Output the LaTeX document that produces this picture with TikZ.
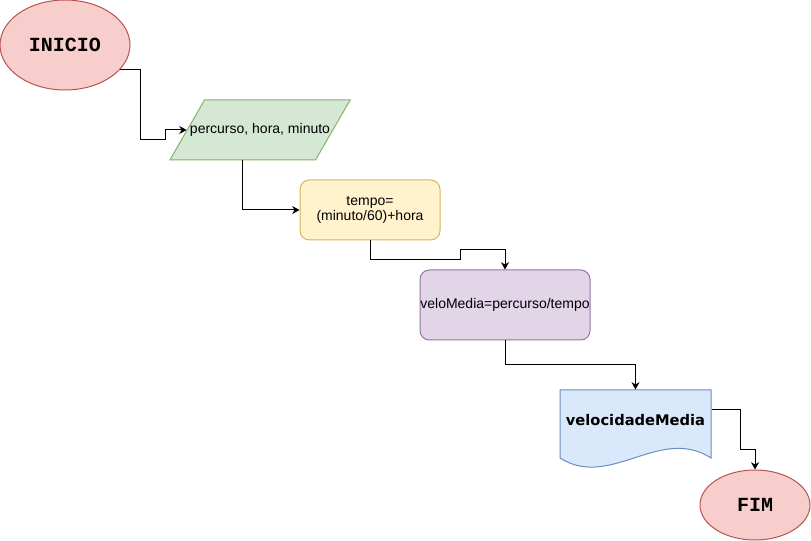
\documentclass[tikz,border=0pt]{standalone}
\usepackage{fontspec}
\setmainfont{Liberation Sans}
\newfontfamily\monofont{Liberation Mono}
\newfontfamily\docfont{DejaVu Sans}
\usetikzlibrary{shapes.geometric, arrows.meta, calc}
\definecolor{termfill}{HTML}{F8CECC}
\definecolor{termline}{HTML}{B85450}
\definecolor{iofill}{HTML}{D5E8D4}
\definecolor{ioline}{HTML}{82B366}
\definecolor{calcfill}{HTML}{FFF2CC}
\definecolor{calcline}{HTML}{D6B656}
\definecolor{procfill}{HTML}{E1D5E7}
\definecolor{procline}{HTML}{9673A6}
\definecolor{docfill}{HTML}{DAE8FC}
\definecolor{docline}{HTML}{6C8EBF}
\tikzstyle{terminal} = [draw=termline, fill=termfill, ellipse, inner sep=0pt,
    font=\monofont\bfseries\fontsize{15}{18}\selectfont]
\tikzstyle{io} = [draw=ioline, fill=iofill, trapezium, trapezium left angle=60,
    trapezium right angle=120, inner xsep=-10.9pt,
    text height=7.6pt, text depth=2.2pt, inner ysep=17.6pt]
\tikzstyle{block} = [draw, rectangle, rounded corners=7pt, align=center, inner sep=0pt]

\begin{document}
\begin{tikzpicture}[x=0.75pt, y=-0.75pt, line width=0.75pt,
        >={Stealth[length=5.5pt, width=6pt]},
        font=\fontsize{10.5}{11.7}\selectfont]
    \useasboundingbox (0,0) rectangle (811,541);

    \node[terminal, name=inicio, minimum width=97.5pt, minimum height=67.5pt] at (65, 45) {INICIO};
    \node[io, name=entrada] at (260, 130) {percurso, hora, minuto};
    \node[block, draw=calcline, fill=calcfill, name=tempo,
        minimum width=105pt, minimum height=45pt] at (370, 210) {tempo=\\(minuto/60)+hora};
    \node[block, draw=procline, fill=procfill, name=velo,
        minimum width=127.5pt, minimum height=52.5pt] at (505, 305) {veloMedia=percurso/tempo};

    % documento de saida
    \filldraw[draw=docline, fill=docfill] (560, 390) -- (711, 390) -- (711, 458)
        .. controls (660, 425) and (610, 490) .. (560, 458) -- cycle;
    \node[name=saida, minimum width=113.25pt, minimum height=45pt, inner sep=0pt,
        font=\docfont\bfseries\fontsize{11}{13}\selectfont] at (635.5, 420) {velocidadeMedia};

    \node[terminal, name=fim, minimum width=82.5pt, minimum height=52.5pt] at (755, 505) {FIM};

    \draw[->] (inicio.-24) -| (140, 140) -- (165, 140) |- (entrada.left side);
    \draw[->] (entrada.bottom side) |- (tempo.west);
    \draw[->] (tempo.south) |- (460, 260) -- (460, 250) -| (velo.north);
    \draw[->] (velo.south) |- (635.5, 365) -- (saida.north);
    \draw[->] ([yshift=7.5pt]saida.east) -| (740, 450) -| (fim.north);
\end{tikzpicture}
\end{document}
